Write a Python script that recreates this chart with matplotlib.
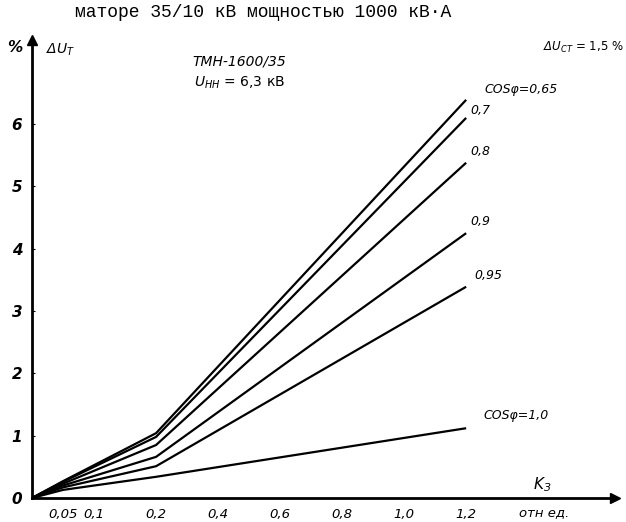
"""
Voltage loss in the transformer vs load factor
"""
import matplotlib.pyplot as plt
import numpy as np

plt.rcParams['font.family'] = ['DejaVu Sans']
plt.rcParams['mathtext.fontset'] = 'custom'
plt.rcParams['mathtext.it'] = 'DejaVu Sans:italic'
plt.rcParams['mathtext.rm'] = 'DejaVu Sans:italic'

# Data
k_load = [0, 0.05, 0.2, 1.2]
du_065 = [0, 0.27, 1.04, 6.39]
du_07 = [0, 0.26, 0.98, 6.10]
du_08 = [0, 0.23, 0.85, 5.38]
du_09 = [0, 0.20, 0.66, 4.25]
du_095 = [0, 0.17, 0.51, 3.39]
du_10 = [0, 0.13, 0.34, 1.12]
cos_labels = ['COSφ=0,65', '0,7', '0,8', '0,9', '0,95', 'COSφ=1,0']
x_ticks = [0.05, 0.1, 0.2, 0.4, 0.6, 0.8, 1.0, 1.2]
x_ticklabels = ['0,05', '0,1', '0,2', '0,4', '0,6', '0,8', '1,0', '1,2']
y_ticks = [0, 1, 2, 3, 4, 5, 6]


# x axis is stretched twice between 0 and 0.2
def fwd(k):
    k = np.asarray(k, dtype=float)
    return np.where(k <= 0.2, 2 * k, k + 0.2)


def inv(p):
    p = np.asarray(p, dtype=float)
    return np.where(p <= 0.4, p / 2, p - 0.2)


fig = plt.figure(figsize=(6.26, 5.22), dpi=100)
ax = fig.add_axes([32 / 626, 24 / 522, 583 / 626, 458 / 522])
ax.set_xscale('function', functions=(fwd, inv))
ax.set_xlim(0, 1.68)
ax.set_ylim(0, 7.35)

series = [du_065, du_07, du_08, du_09, du_095, du_10]
for s in series:
    ax.plot(k_load, s, color='black', lw=1.6, solid_capstyle='butt')

# curve labels near the line ends
lab_pos = [(1.26, 6.45), (1.215, 6.12), (1.215, 5.45),
           (1.215, 4.33), (1.225, 3.47), (1.255, 1.22)]
for (xx, yy), txt in zip(lab_pos, cos_labels):
    ax.text(xx, yy, txt, fontsize=9, style='italic', ha='left', va='bottom')

# axes styling
for side in ['top', 'right']:
    ax.spines[side].set_visible(False)
ax.spines['left'].set_linewidth(2)
ax.spines['bottom'].set_linewidth(2)
ax.plot(1, 0, '>k', ms=7, transform=ax.get_yaxis_transform(), clip_on=False)
ax.plot(0, 1, '^k', ms=7, transform=ax.get_xaxis_transform(), clip_on=False)

ax.set_xticks(x_ticks)
ax.set_xticklabels(x_ticklabels, style='italic', fontsize=9.5)
ax.set_yticks(y_ticks)
ax.set_yticklabels([str(v) for v in y_ticks], style='italic', fontsize=11, weight='bold')
ax.tick_params(axis='x', length=0, pad=7)
ax.tick_params(axis='y', length=2, direction='in', pad=7)
ax.set_xticks([], minor=True)

# annotations
fig.text(15 / 626, 1 - 48 / 522, '%', fontsize=11, style='italic', weight='bold',
         ha='center', va='center')
ax.text(0.022, 7.2, r'$\Delta U_T$', fontsize=10, ha='left', va='center')
ax.text(0.47, 7.0, 'ТМН-1600/35', fontsize=10, style='italic', ha='center', va='center')
ax.text(0.47, 6.67, r'$U_{НН}$ = 6,3 кВ', fontsize=10, ha='center', va='center')
fig.text(583 / 626, 1 - 47 / 522, r'$\Delta U_{СТ}$ = 1,5 %', fontsize=8.5,
         ha='center', va='center')
ax.text(1.445, 0.22, r'$K_З$', fontsize=11, ha='center', va='center')
ax.text(1.45, -0.24, 'отн ед.', fontsize=9.5, style='italic', ha='center', va='center')

fig.text(0.42, 1 - 17 / 522, 'маторе 35/10 кВ мощностью 1000 кВ·А',
         family='Liberation Mono', fontsize=13, ha='center', va='baseline')

fig.savefig('out.png', dpi=100)
